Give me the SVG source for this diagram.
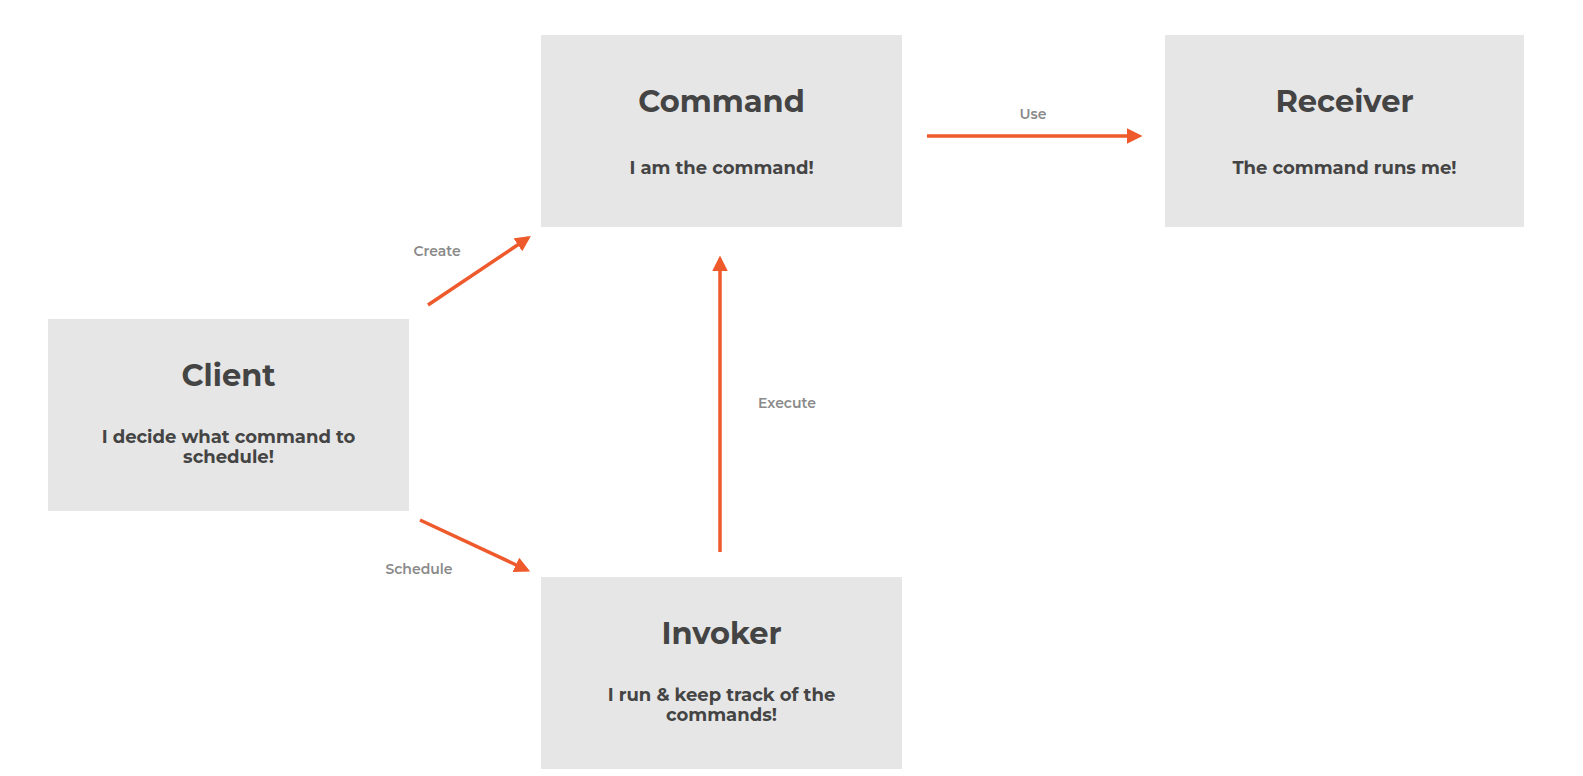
<svg xmlns="http://www.w3.org/2000/svg" width="1583" height="776" viewBox="0 0 1583 776">
<style>
.box{fill:#e6e6e6}
.t{font-family:"Montserrat","Noto Sans","Liberation Sans",sans-serif;font-weight:bold;fill:#444;text-anchor:middle}
.title{font-size:30.5px}
.sub{font-size:18px}
.lbl{font-family:"Montserrat","Noto Sans","Liberation Sans",sans-serif;font-weight:600;font-size:14px;fill:#8a8a8a;text-anchor:middle}
.c{stroke:#ee5a2b;stroke-width:3.5;fill:none;marker-end:url(#ah)}
</style>
<defs>
<marker id="ah" markerWidth="4.5" markerHeight="4.5" refX="3.5" refY="2.25" orient="auto" markerUnits="strokeWidth">
<path d="M0,0 L4.5,2.25 L0,4.5 Z" fill="#ee5a2b"/>
</marker>
</defs>
<rect width="1583" height="776" fill="#fff"/>
<g id="command">
<rect class="box" x="541" y="35" width="361" height="192"/>
<text class="t title" x="721.5" y="112">Command</text>
<text class="t sub" x="721.5" y="174">I am the command!</text>
</g>
<g id="receiver">
<rect class="box" x="1165" y="35" width="359" height="192"/>
<text class="t title" x="1344.5" y="112">Receiver</text>
<text class="t sub" x="1344.5" y="174">The command runs me!</text>
</g>
<g id="client">
<rect class="box" x="48" y="319" width="361" height="192"/>
<text class="t title" x="228.5" y="386">Client</text>
<text class="t sub" x="228.5" y="443">I decide what command to</text>
<text class="t sub" x="228.5" y="463">schedule!</text>
</g>
<g id="invoker">
<rect class="box" x="541" y="577" width="361" height="192"/>
<text class="t title" x="721.5" y="644">Invoker</text>
<text class="t sub" x="721.5" y="701">I run &amp; keep track of the</text>
<text class="t sub" x="721.5" y="721">commands!</text>
</g>
<g id="connectors">
<line class="c" x1="927" y1="136" x2="1139" y2="136"/>
<text class="lbl" x="1033" y="119">Use</text>
<line class="c" x1="428" y1="305" x2="528" y2="238"/>
<text class="lbl" x="437" y="256">Create</text>
<line class="c" x1="420" y1="520" x2="527" y2="570"/>
<text class="lbl" x="419" y="574">Schedule</text>
<line class="c" x1="720" y1="552" x2="720" y2="259"/>
<text class="lbl" x="787" y="408">Execute</text>
</g>
</svg>
